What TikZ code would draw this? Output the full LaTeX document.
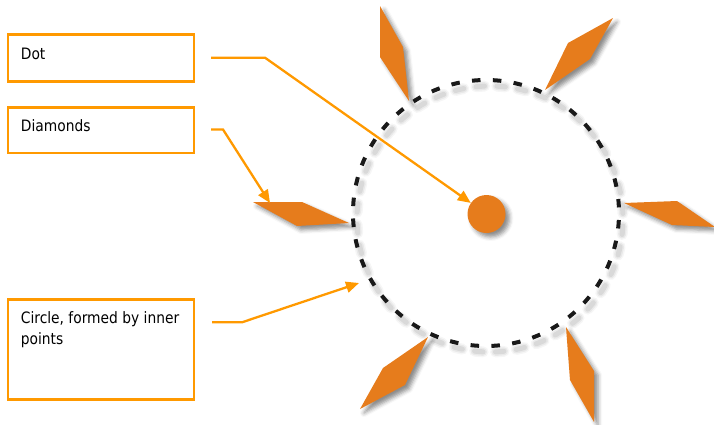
\documentclass[tikz,border=0pt]{standalone}
\usepackage{fontspec}
\setmainfont{DejaVu Sans}[FakeStretch=0.88]
\usetikzlibrary{arrows.meta,shadows.blur,calc}
\definecolor{boxorange}{RGB}{255,153,0}
\definecolor{shapeorange}{RGB}{230,124,28}
\begin{document}
\begin{tikzpicture}[x=1pt,y=-1pt,
  box/.style={draw=boxorange,line width=2.5pt,rectangle,inner sep=0pt,outer sep=0pt,anchor=north west,minimum width=186pt},
  lbl/.style={anchor=base west,inner sep=0pt,font=\fontsize{15.7}{21}\selectfont,align=left},
  conn/.style={draw=boxorange,line width=2.3pt,-{Triangle[length=13pt,width=11pt]}},
  dia/.style={fill=shapeorange,blur shadow={shadow xshift=4pt,shadow yshift=-4pt,shadow blur radius=4pt,shadow opacity=45}},
  ringshadow/.style={draw=black,line cap=round,dash pattern=on 8.5pt off 12.39pt,dash phase=13.9pt},
  ring/.style={draw=black!90,line width=4pt,dash pattern=on 8.5pt off 12.39pt,dash phase=13.9pt},
]
\useasboundingbox (0,0) rectangle (714,424);
% boxes
\node[box,minimum height=46.6pt] (dotbox) at (8,34.7) {};
\node[box,minimum height=45.7pt] (diabox) at (8,107.3) {};
\node[box,minimum height=100pt] (cirbox) at (8,299.5) {};
\node[lbl] (dottxt) at (20.7,59) {Dot};
\node[lbl] (diatxt) at (20.7,131) {Diamonds};
\node[lbl] (cirtxt) at (20.7,344) {Circle, formed by inner\\points};
% ring shadow
\coordinate (ctr) at (486,213);
\coordinate (ctrs) at (490,219);
\draw[ringshadow,line width=11pt,opacity=0.035] (ctrs) circle[radius=133];
\draw[ringshadow,line width=8pt,opacity=0.05] (ctrs) circle[radius=133];
\draw[ringshadow,line width=5pt,opacity=0.07] (ctrs) circle[radius=133];
% ring
\draw[ring] (ctr) circle[radius=133];
% diamonds
\path[dia] (253,202) -- (302,202) -- (349,223) -- (297,226) -- cycle;
\path[dia] (380,6) -- (403,47) -- (409,101) -- (380,57) -- cycle;
\path[dia] (613,18) -- (590,59) -- (545,90) -- (568,43) -- cycle;
\path[dia] (624,203) -- (677,201) -- (715,227) -- (672,225) -- cycle;
\path[dia] (566,327) -- (594,371) -- (594,422) -- (570,380) -- cycle;
\path[dia] (428,337) -- (405,385) -- (360,409) -- (383,368) -- cycle;
% dot
\node[circle,fill=shapeorange,minimum size=38pt,inner sep=0pt,blur shadow={shadow xshift=4pt,shadow yshift=-4pt,shadow blur radius=4pt,shadow opacity=45}] (dot) at (486.5,214) {};
% connectors
\coordinate (s1) at (211,57.7);
\coordinate (b1) at (265,57.7);
\coordinate (s2) at (211,129.5);
\coordinate (b2) at (223,129.5);
\coordinate (t2) at (270,203);
\coordinate (s3) at (212,322.3);
\coordinate (b3) at (242,322.3);
\coordinate (t3) at (359,283);
\draw[conn] (s1) -- (b1) -- (dot);
\draw[conn] (s2) -- (b2) -- (t2);
\draw[conn] (s3) -- (b3) -- (t3);
\end{tikzpicture}
\end{document}
